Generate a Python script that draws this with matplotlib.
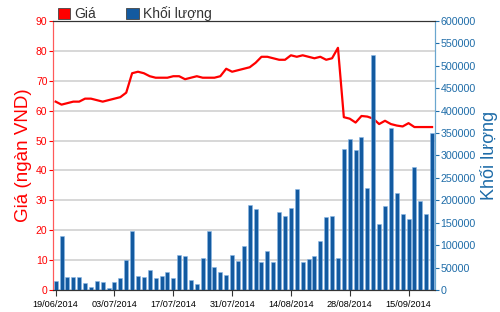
import matplotlib.pyplot as plt
import numpy as np
from matplotlib.patches import Patch
from matplotlib.ticker import MultipleLocator

plt.rcParams['font.family'] = ['Liberation Sans', 'DejaVu Sans']

# tick labels (trading days, one label every 10 sessions)
date_labels = ['19/06/2014', '03/07/2014', '17/07/2014', '31/07/2014',
               '14/08/2014', '28/08/2014', '15/09/2014']

# closing price (thousand VND)
price = [63.0, 62.0, 62.5, 63.0, 63.0, 64.0, 64.0, 63.5, 63.0, 63.5,
         64.0, 64.5, 66.0, 72.5, 73.0, 72.5, 71.5, 71.0, 71.0, 71.0,
         71.5, 71.5, 70.5, 71.0, 71.5, 71.0, 71.0, 71.0, 71.5, 74.0,
         73.0, 73.5, 74.0, 74.5, 76.0, 78.0, 78.0, 77.5, 77.0, 77.0,
         78.5, 78.0, 78.5, 78.0, 77.5, 78.0, 77.0, 77.5, 81.0, 57.8,
         57.3, 56.0, 58.2, 58.0, 57.3, 55.5, 56.6, 55.5, 55.0, 54.7,
         55.8, 54.5, 54.5, 54.5, 54.5]

# traded volume (shares)
volume = [21000, 120000, 29000, 29000, 29000, 16000, 7000, 21000, 18500, 4500,
          18500, 26000, 67000, 132000, 31000, 29000, 44500, 26500, 31000, 40000,
          26000, 78500, 76500, 21500, 14000, 72000, 132000, 50500, 40000, 33500,
          78500, 64500, 98000, 189000, 180000, 61500, 86000, 61500, 173000, 165000,
          182000, 225000, 61500, 70000, 76500, 110000, 163500, 165000, 72000, 314500,
          336000, 311500, 340500, 228000, 524000, 146500, 187000, 361000, 216000, 169000,
          158000, 273500, 198500, 169000, 350000]

red = '#ff0000'
bar_blue = '#135aa0'
axis_blue = '#1e6ca8'

x = np.arange(len(price))

fig = plt.figure(figsize=(5.0, 3.12), dpi=100)
ax1 = fig.add_axes([0.106, 0.0705, 0.764, 0.8625])
ax2 = ax1.twinx()

ax1.plot(x, price, color=red, linewidth=1.6, zorder=3)
ax2.bar(x, volume, width=0.68, color=bar_blue, edgecolor='#8ab8e6', linewidth=0.4)

ax1.set_ylim(0, 90)
ax2.set_ylim(0, 600000)
ax1.set_xlim(-0.45, 64.5)

ax1.yaxis.set_major_locator(MultipleLocator(10))
ax2.yaxis.set_major_locator(MultipleLocator(50000))
ax1.grid(axis='y', color='#d4d4d4', linewidth=1.3)
ax1.set_axisbelow(True)

ax1.set_xticks(np.arange(0, 61, 10))
ax1.set_xticklabels(date_labels)
ax1.tick_params(axis='x', length=4, width=0.8, color='#333333', labelsize=6.6, pad=3)
ax1.tick_params(axis='y', length=3, width=0.8, color=red, labelcolor=red, labelsize=7.5, pad=1)
ax2.tick_params(axis='y', length=3, width=0.8, color=axis_blue, labelcolor=axis_blue, labelsize=7.7, pad=1)

for a in (ax1, ax2):
    a.spines['top'].set_color('#333333')
    a.spines['bottom'].set_color('#333333')
    a.spines['left'].set_color('#ff5a5a')
    a.spines['right'].set_color('#6aa6cf')

ax1.set_ylabel('Giá (ngàn VND)', color=red, fontsize=13.5, labelpad=3)
ax2.set_ylabel('Khối lượng', color=axis_blue, fontsize=13, labelpad=3)

handles = [Patch(facecolor=red, edgecolor='#444444', linewidth=0.6),
           Patch(facecolor=bar_blue, edgecolor='#444444', linewidth=0.6)]
fig.legend(handles, ['Giá', 'Khối lượng'], loc='upper left', bbox_to_anchor=(0.09, 1.02),
           ncol=2, frameon=False, fontsize=10, handlelength=0.9, handleheight=0.9,
           handletextpad=0.3, columnspacing=2.2, labelcolor='#333333')

fig.savefig('out.png', dpi=100)
